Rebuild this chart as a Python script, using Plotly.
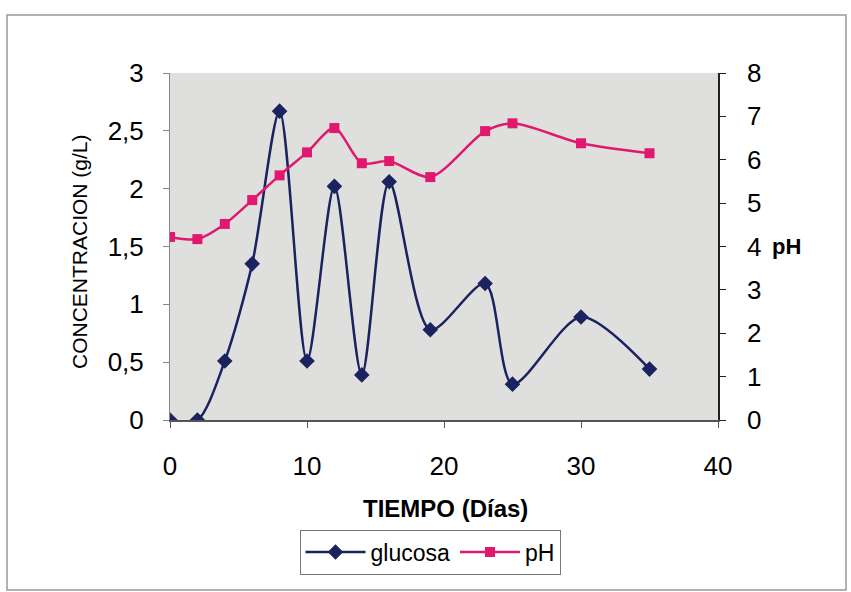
import plotly.graph_objects as go

dias = [0, 2, 4, 6, 8, 10, 12, 14, 16, 19, 23, 25, 30, 35]
glucosa = [0.0, 0.0, 0.51, 1.35, 2.67, 0.51, 2.02, 0.39, 2.06, 0.78, 1.18, 0.31, 0.89, 0.44]
ph = [4.22, 4.17, 4.52, 5.07, 5.64, 6.17, 6.73, 5.92, 5.97, 5.6, 6.66, 6.84, 6.38, 6.15]

left_ticks = [0, 0.5, 1, 1.5, 2, 2.5, 3]
left_labels = ["0", "0,5", "1", "1,5", "2", "2,5", "3"]
right_ticks = [0, 1, 2, 3, 4, 5, 6, 7, 8]
x_ticks = [0, 10, 20, 30, 40]

W, H = 851, 592
L, R, T, B = 170, 718, 73, 420
pw, ph_ = R - L, B - T

def px(x):
    return (x - L) / pw

def py(y):
    return (B - y) / ph_

font = "Liberation Sans, Arial, sans-serif"

fig = go.Figure()
fig.add_trace(go.Scatter(
    x=dias, y=glucosa, name="glucosa", mode="lines+markers",
    line=dict(color="#1b2260", width=2.5, shape="spline", smoothing=0.8),
    marker=dict(symbol="diamond", size=12, color="#1b2260"),
    yaxis="y"))
fig.add_trace(go.Scatter(
    x=dias, y=ph, name="pH", mode="lines+markers",
    line=dict(color="#e0186e", width=2.5, shape="spline", smoothing=0.8),
    marker=dict(symbol="square", size=10, color="#e0186e"),
    yaxis="y2"))

fig.update_layout(
    width=W, height=H,
    margin=dict(l=L, r=W - R, t=T, b=H - B),
    paper_bgcolor="white",
    plot_bgcolor="#dfdfdd",
    font=dict(family=font, color="black"),
    showlegend=True,
    legend=dict(orientation="h", x=px(430), y=py(552), xanchor="center", yanchor="middle",
                bordercolor="#777777", borderwidth=1, bgcolor="white",
                font=dict(size=23, family=font), itemwidth=60),
    xaxis=dict(range=[0, 40], tickvals=x_ticks, showgrid=False, zeroline=False,
               showline=True, linecolor="#555555", linewidth=1.5,
               ticks="outside", ticklen=6, tickcolor="#555555", ticklabelstandoff=16,
               tickfont=dict(size=26, family=font)),
    yaxis=dict(range=[0, 3], tickvals=left_ticks, ticktext=left_labels, showgrid=False,
               zeroline=False, showline=True, linecolor="#888888", linewidth=1,
               ticks="outside", ticklen=6, tickcolor="#888888", ticklabelstandoff=14,
               tickfont=dict(size=26, family=font)),
    yaxis2=dict(range=[0, 8], tickvals=right_ticks, overlaying="y", side="right",
                showgrid=False, zeroline=False, showline=True, linecolor="#222222",
                linewidth=1.5, ticks="outside", ticklen=6, tickcolor="#222222",
                ticklabelstandoff=16, tickfont=dict(size=26, family=font)),
    annotations=[
        dict(text="CONCENTRACION (g/L)", xref="paper", yref="paper", x=px(80), y=py(252),
             textangle=-90, showarrow=False, font=dict(size=21, family=font),
             xanchor="center", yanchor="middle"),
        dict(text="<b>TIEMPO (Días)</b>", xref="paper", yref="paper", x=px(445), y=py(508),
             showarrow=False, font=dict(size=24, family=font), xanchor="center", yanchor="middle"),
        dict(text="<b>pH</b>", xref="paper", yref="paper", x=px(786), y=py(246),
             showarrow=False, font=dict(size=22, family=font), xanchor="center", yanchor="middle"),
    ],
    shapes=[
        dict(type="rect", xref="paper", yref="paper", x0=px(7), x1=px(846), y0=py(590), y1=py(15),
             line=dict(color="#999999", width=1.5), layer="below"),
    ],
)

fig.write_html("out.html")
